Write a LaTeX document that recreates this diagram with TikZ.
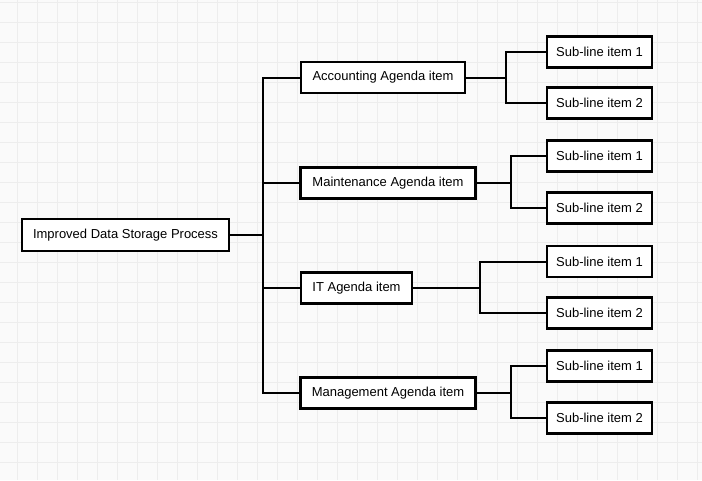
\documentclass[tikz,border=0pt]{standalone}
\usepackage{fontspec}
\setmainfont{Liberation Sans}
\definecolor{bg}{HTML}{FAFAFA}
\definecolor{gridc}{HTML}{EDEDED}
\tikzset{
  box/.style={draw=black, line width=2.2pt, fill=white, inner sep=0pt, font=\fontsize{13}{15}\selectfont, text=black},
  subbox/.style={box, minimum width=105pt, minimum height=31pt},
  conn/.style={draw=black, line width=2pt},
}
\begin{document}
\begin{tikzpicture}[x=1pt,y=-1pt]
\fill[bg] (0,0) rectangle (702,480);
\useasboundingbox (0,0) rectangle (702,480);
\foreach \i in {0,...,34} {\draw[gridc, line width=1pt] (17+20*\i,0) -- (17+20*\i,480);}
\foreach \j in {0,...,23} {\draw[gridc, line width=1pt] (0,2+20*\j) -- (702,2+20*\j);}

\node[box, minimum width=207pt, minimum height=32pt] (root) at (125.5,235) {Improved Data Storage Process};
\node[box, minimum width=164pt, minimum height=31pt] (acc) at (383,77.5) {Accounting Agenda item};
\node[box, minimum width=175pt, minimum height=31pt] (mnt) at (388,183) {Maintenance Agenda item};
\node[box, minimum width=111pt, minimum height=31pt] (it) at (356.5,288) {IT Agenda item};
\node[box, minimum width=175pt, minimum height=31pt] (mgt) at (388,393) {Management Agenda item};

\node[subbox] (a1) at (599.5,52) {Sub-line item 1};
\node[subbox] (a2) at (599.5,103) {Sub-line item 2};
\node[subbox] (m1) at (599.5,156) {Sub-line item 1};
\node[subbox] (m2) at (599.5,208) {Sub-line item 2};
\node[subbox] (i1) at (599.5,261.5) {Sub-line item 1};
\node[subbox] (i2) at (599.5,313) {Sub-line item 2};
\node[subbox] (g1) at (599.5,366) {Sub-line item 1};
\node[subbox] (g2) at (599.5,418) {Sub-line item 2};

\coordinate (trunk) at (263,235);
\draw[conn] (root.east) -- (trunk);
\foreach \n in {acc,mnt,it,mgt} {\draw[conn] (trunk) |- (\n.west);}
\foreach \p/\a/\b/\x in {acc/a1/a2/506, mnt/m1/m2/511, it/i1/i2/480, mgt/g1/g2/511} {
  \draw[conn] (\p.east) -- (\x,0 |- \p.east) coordinate (j);
  \draw[conn] (j) |- (\a.west);
  \draw[conn] (j) |- (\b.west);
}
\end{tikzpicture}
\end{document}
